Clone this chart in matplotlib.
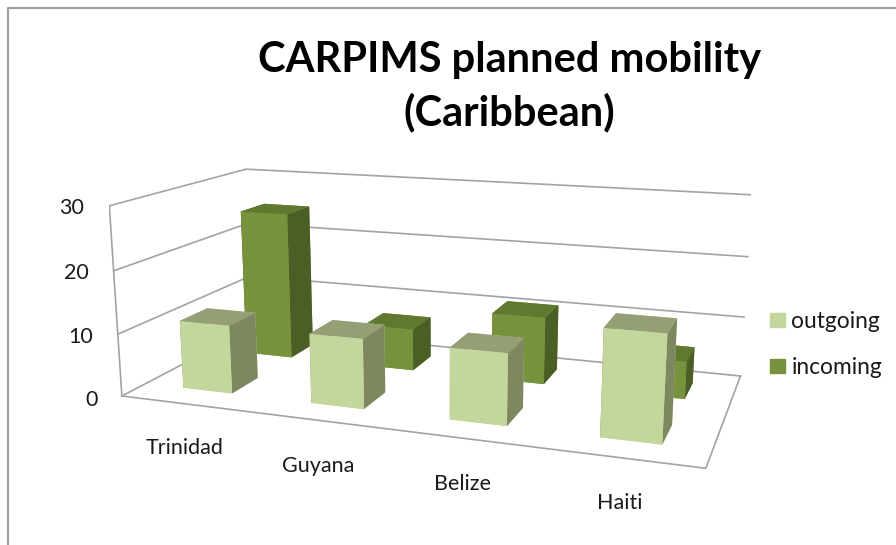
import numpy as np
import matplotlib
matplotlib.use("Agg")
import matplotlib.pyplot as plt
from matplotlib.lines import Line2D
from matplotlib.patches import Patch

W, H = 896, 545

categories = ['Trinidad', 'Guyana', 'Belize', 'Haiti']
outgoing = [11, 11, 11, 16]
incoming = [25, 7, 11, 6]
z_ticks = [0, 10, 20, 30]

plt.rcParams['font.family'] = ['Lato', 'DejaVu Sans']

LIGHT = ('#c3d69b', '#949f76', '#7d8860')   # front, top, side
DARK = ('#76923c', '#5f7a2e', '#4b5e26')
GRID = '#a3a3a3'
TEXT = '#1a1a1a'


def draw_bars(ax, values, y0, colors, order):
    # face order for bar3d: bottom, top, front, back, left, right
    face = [colors[0], colors[1], colors[0], colors[0], colors[2], colors[2]]
    for i, v in enumerate(values):
        ax.bar3d(i + 0.305, y0, 0, 0.39, 0.4, v, color=face, shade=False,
                 linewidth=0, zorder=order + i)


fig = plt.figure(figsize=(W / 100, H / 100), dpi=100)
ax = fig.add_axes([109.3 / W, -79.3 / H, 641.9 / W, 641.9 / H], projection='3d',
                  computed_zorder=False)
ax.set_xlim(0, 4)
ax.set_ylim(0, 2)
ax.set_zlim(0, 30)
ax.view_init(13.72, -70.41, 0.04)
ax.set_proj_type('persp', focal_length=0.349)
ax.set_box_aspect((1, 0.475, 0.334))
ax.set_xticks([])
ax.set_yticks([])
ax.set_zticks([])
ax.set_axis_off()
for axis in (ax.xaxis, ax.yaxis, ax.zaxis):
    axis.set_visible(False)
    axis.label.set_visible(False)
    axis.offsetText.set_visible(False)
ax.title.set_visible(False)
ax._left_title.set_visible(False)
ax._right_title.set_visible(False)

# walls and floor are outlines only
style = dict(color=GRID, lw=1.2, zorder=1)
for z in z_ticks:
    ax.plot([0, 0, 4], [0, 2, 2], [z, z, z], **style)
ax.plot([0, 0], [0, 0], [0, 30], **style)
ax.plot([0, 4, 4], [0, 0, 2], [0, 0, 0], **style)

draw_bars(ax, incoming, 1.3, DARK, 10)
draw_bars(ax, outgoing, 0.32, LIGHT, 20)

for z in z_ticks:
    ax.text(-0.11, -0.13, z, str(z), ha='right', va='center', fontsize=15.5, color=TEXT)

# category labels sit in screen space below the floor
label_px = [(185, 448), (318, 466), (462, 484), (620, 503)]
for name, (px, py) in zip(categories, label_px):
    fig.text(px / W, 1 - py / H, name, ha='center', va='center', fontsize=15.5, color=TEXT)

fig.text(509.5 / W, 1 - 86.5 / H, 'CARPIMS planned mobility\n(Caribbean)', ha='center', va='center',
         fontsize=30, fontweight='bold', color='black', linespacing=1.42)

handles = [Patch(color=LIGHT[0], label='outgoing'), Patch(color=DARK[0], label='incoming')]
fig.legend(handles=handles, loc='center left', bbox_to_anchor=(770 / W, 1 - 344.5 / H), frameon=False,
           fontsize=16.4, labelcolor=TEXT, handlelength=0.66, handleheight=0.6, handletextpad=0.28,
           labelspacing=1.1, borderpad=0, borderaxespad=0)

# outer chart border, only top and left are in frame
fig.add_artist(Line2D([8 / W, 8 / W, 1], [0, 1 - 8 / H, 1 - 8 / H], color='#a0a0a0', lw=1.6))

fig.savefig('out.png', dpi=100)
